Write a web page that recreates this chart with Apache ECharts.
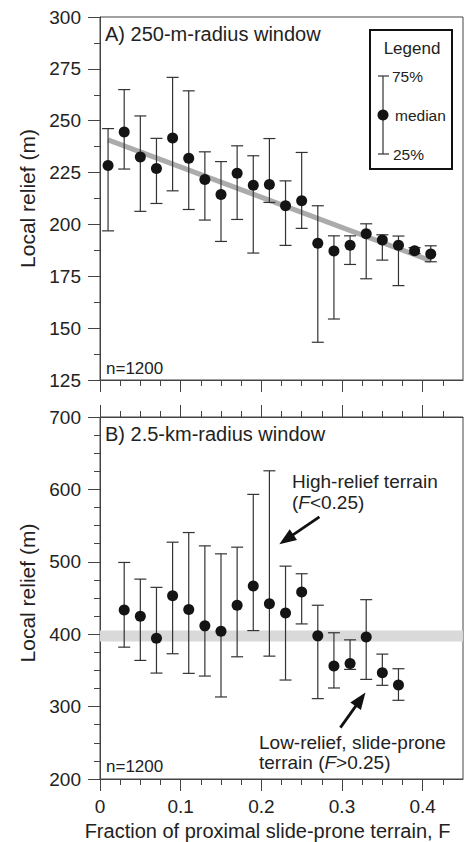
<!DOCTYPE html>
<html>
<head>
<meta charset="utf-8">
<script src="https://cdn.jsdelivr.net/npm/echarts@6/dist/echarts.min.js"></script>
<style>
html,body{margin:0;padding:0;background:#fff;}
#chart{width:470px;height:842px;}
</style>
</head>
<body>
<div id="chart"></div>
<script>
// ---- Panel A: 250-m-radius window ----
const xA   = [0.01,0.03,0.05,0.07,0.09,0.11,0.13,0.15,0.17,0.19,0.21,0.23,0.25,0.27,0.29,0.31,0.33,0.35,0.37,0.39,0.41];
const medA = [228.4,244.6,232.5,227.0,241.7,231.9,221.7,214.4,224.7,218.9,219.3,209.0,211.4,190.9,187.2,190.0,195.5,192.5,190.0,187.3,185.7];
const q75A = [246.2,265.0,252.3,241.5,270.9,264.4,235.0,230.3,237.9,233.1,241.4,221.0,234.7,209.0,194.5,194.5,200.3,195.0,194.4,188.8,189.7];
const q25A = [196.9,226.7,206.3,210.1,216.2,207.2,202.1,191.8,202.4,186.2,210.6,189.9,198.1,143.2,154.4,180.7,173.8,182.8,170.5,186.0,182.0];
const trendAx = [0.01, 0.41];
const trendAy = [240.8, 182.5];

// ---- Panel B: 2.5-km-radius window ----
const xB   = [0.03,0.05,0.07,0.09,0.11,0.13,0.15,0.17,0.19,0.21,0.23,0.25,0.27,0.29,0.31,0.33,0.35,0.37];
const medB = [433.5,424.8,394.5,453.2,434.0,411.5,404.1,440.0,466.5,442.2,429.4,458.3,397.7,356.0,359.6,396.0,346.8,329.8];
const q75B = [499.1,476.1,464.7,527.1,540.4,522.0,511.0,520.2,593.1,625.7,494.0,483.5,440.0,402.0,392.2,447.7,372.5,352.3];
const q25B = [382.1,363.8,346.3,373.0,345.9,342.2,313.3,368.8,405.0,369.7,336.7,414.2,311.0,325.7,351.4,337.6,329.4,308.7];
const bandB = [390, 405];
// annotation arrows [tailX, tailY, headX, headY] in data units
const arrowHigh = [0.272, 562, 0.231, 531];
const arrowLow  = [0.298, 271, 0.323, 310];

// ---- Axis ticks ----
const majorX = [0, 0.1, 0.2, 0.3, 0.4];
const minorX = [0.025,0.05,0.075,0.125,0.15,0.175,0.225,0.25,0.275,0.325,0.35,0.375,0.425];

const FONT = 'Liberation Sans, Arial, Helvetica, sans-serif';
const TXT = '#222';
const AX = '#444';

const chart = echarts.init(document.getElementById('chart'), null, {renderer: 'svg'});

function pairs(xs, ys) { return xs.map((x, i) => [x, ys[i]]); }
function triples(xs, lo, hi) { return xs.map((x, i) => [x, lo[i], hi[i]]); }

function errRender(params, api) {
  const x = api.value(0), lo = api.value(1), hi = api.value(2);
  const a = api.coord([x, hi]);
  const b = api.coord([x, lo]);
  const hw = 6;
  const st = {stroke: '#333', lineWidth: 1.2};
  return {type: 'group', children: [
    {type: 'line', shape: {x1: a[0], y1: a[1], x2: b[0], y2: b[1]}, style: st},
    {type: 'line', shape: {x1: a[0] - hw, y1: a[1], x2: a[0] + hw, y2: a[1]}, style: st},
    {type: 'line', shape: {x1: b[0] - hw, y1: b[1], x2: b[0] + hw, y2: b[1]}, style: st}
  ]};
}

function xMajor(grid, pos, showLabel) {
  return {
    gridIndex: grid, type: 'value', min: 0, max: 0.45, position: pos,
    axisLine: {show: true, onZero: false, lineStyle: {color: AX, width: 1}},
    axisTick: {show: true, length: 12, customValues: majorX, lineStyle: {color: AX, width: 1}},
    axisLabel: showLabel ? {show: true, customValues: majorX, margin: 18, fontSize: 19, color: TXT, fontFamily: FONT} : {show: false},
    splitLine: {show: false}
  };
}
function xMinor(grid, pos) {
  return {
    gridIndex: grid, type: 'value', min: 0, max: 0.45, position: pos,
    axisLine: {show: false, onZero: false},
    axisTick: {show: true, length: 6, customValues: minorX, lineStyle: {color: AX, width: 1}},
    axisLabel: {show: false},
    splitLine: {show: false}
  };
}

const bottomX = xMajor(1, 'bottom', true);
bottomX.name = 'Fraction of proximal slide-prone terrain, F';
bottomX.nameLocation = 'middle';
bottomX.nameGap = 42;
bottomX.nameTextStyle = {fontSize: 20, color: TXT, fontFamily: FONT, padding: [0, 28, 0, 0]};

function yAxis(grid, min, max, interval, minorSplit, pad) {
  return {
    gridIndex: grid, type: 'value', min: min, max: max, interval: interval, position: 'left',
    name: 'Local relief (m)', nameLocation: 'middle', nameGap: 62,
    nameTextStyle: {fontSize: 21, color: TXT, fontFamily: FONT, padding: pad},
    axisLine: {show: true, onZero: false, lineStyle: {color: AX, width: 1}},
    axisTick: {show: true, length: 12, lineStyle: {color: AX, width: 1}},
    minorTick: {show: true, splitNumber: minorSplit, length: 6, lineStyle: {color: AX, width: 1}},
    axisLabel: {margin: 19, fontSize: 19, color: TXT, fontFamily: FONT},
    splitLine: {show: false}, minorSplitLine: {show: false}
  };
}

function txt(x, y, text, size, extra) {
  return {
    type: 'text', x: x, y: y, silent: true,
    style: Object.assign({text: text, fontSize: size, fontFamily: FONT, fill: TXT, verticalAlign: 'middle', align: 'left'}, (extra || {}))
  };
}
const ital = {i: {fontStyle: 'italic', fontSize: 19, fontFamily: FONT, fill: TXT}};

function arrowLine(a) {
  return [
    {coord: [a[0], a[1]], symbol: 'none'},
    {coord: [a[2], a[3]], symbol: 'triangle', symbolSize: [13, 17]}
  ];
}

const option = {
  animation: false,
  backgroundColor: '#fff',
  grid: [
    {left: 100, top: 17, width: 363, height: 363, show: true, borderColor: AX, borderWidth: 1, backgroundColor: 'transparent'},
    {left: 100, top: 417, width: 363, height: 363, show: true, borderColor: AX, borderWidth: 1, backgroundColor: 'transparent'}
  ],
  xAxis: [
    xMajor(0, 'bottom', false),
    xMinor(0, 'bottom'),
    bottomX,
    xMinor(1, 'bottom'),
    xMajor(1, 'top', false),
    xMinor(1, 'top')
  ],
  yAxis: [
    yAxis(0, 125, 300, 25, 2, [0, 0, 0, 0]),
    yAxis(1, 200, 700, 100, 4, [0, 0, 0, 10])
  ],
  series: [
    {
      type: 'line', xAxisIndex: 0, yAxisIndex: 0, z: 1,
      data: pairs(trendAx, trendAy), symbol: 'none',
      lineStyle: {color: '#ababab', width: 5}, silent: true
    },
    {
      type: 'custom', xAxisIndex: 0, yAxisIndex: 0, z: 2,
      data: triples(xA, q25A, q75A), renderItem: errRender, silent: true
    },
    {
      type: 'scatter', xAxisIndex: 0, yAxisIndex: 0, z: 3,
      data: pairs(xA, medA), symbol: 'circle', symbolSize: 11,
      itemStyle: {color: '#141414', opacity: 1}, silent: true
    },
    {
      type: 'custom', xAxisIndex: 2, yAxisIndex: 1, z: 2,
      data: triples(xB, q25B, q75B), renderItem: errRender, silent: true,
      markArea: {
        silent: true,
        itemStyle: {color: '#d9d9d9'},
        data: [[{yAxis: bandB[0]}, {yAxis: bandB[1]}]]
      }
    },
    {
      type: 'scatter', xAxisIndex: 2, yAxisIndex: 1, z: 3,
      data: pairs(xB, medB), symbol: 'circle', symbolSize: 11,
      itemStyle: {color: '#141414', opacity: 1}, silent: true,
      markLine: {
        silent: true, animation: false,
        label: {show: false},
        lineStyle: {color: '#111', width: 2.8, type: 'solid', opacity: 1},
        itemStyle: {color: '#111'},
        emphasis: {disabled: true},
        data: [arrowLine(arrowHigh), arrowLine(arrowLow)]
      }
    }
  ],
  graphic: [
    txt(105, 34, 'A) 250-m-radius window', 20),
    txt(106, 368, 'n=1200', 17),
    txt(105, 434, 'B) 2.5-km-radius window', 20),
    txt(106, 766, 'n=1200', 17),
    txt(292, 481, 'High-relief terrain', 19),
    txt(292, 502, '({i|F}<0.25)', 19, {rich: ital}),
    txt(259, 742, 'Low-relief, slide-prone', 19),
    txt(259, 762, 'terrain ({i|F}>0.25)', 19, {rich: ital}),
    // legend box
    {type: 'rect', silent: true, shape: {x: 370, y: 30, width: 82, height: 139}, style: {fill: '#fff', stroke: '#111', lineWidth: 2}},
    txt(412, 48, 'Legend', 17, {align: 'center'}),
    {type: 'line', silent: true, shape: {x1: 383, y1: 76, x2: 383, y2: 154}, style: {stroke: '#333', lineWidth: 1.2}},
    {type: 'line', silent: true, shape: {x1: 378, y1: 76, x2: 389, y2: 76}, style: {stroke: '#333', lineWidth: 1.2}},
    {type: 'line', silent: true, shape: {x1: 378, y1: 154, x2: 389, y2: 154}, style: {stroke: '#333', lineWidth: 1.2}},
    {type: 'circle', silent: true, shape: {cx: 383, cy: 115, r: 5.5}, style: {fill: '#141414'}},
    txt(392, 76, '75%', 15.5),
    txt(395, 115, 'median', 15.5),
    txt(393, 154, '25%', 15.5)
  ]
};
chart.setOption(option);
</script>
</body>
</html>
